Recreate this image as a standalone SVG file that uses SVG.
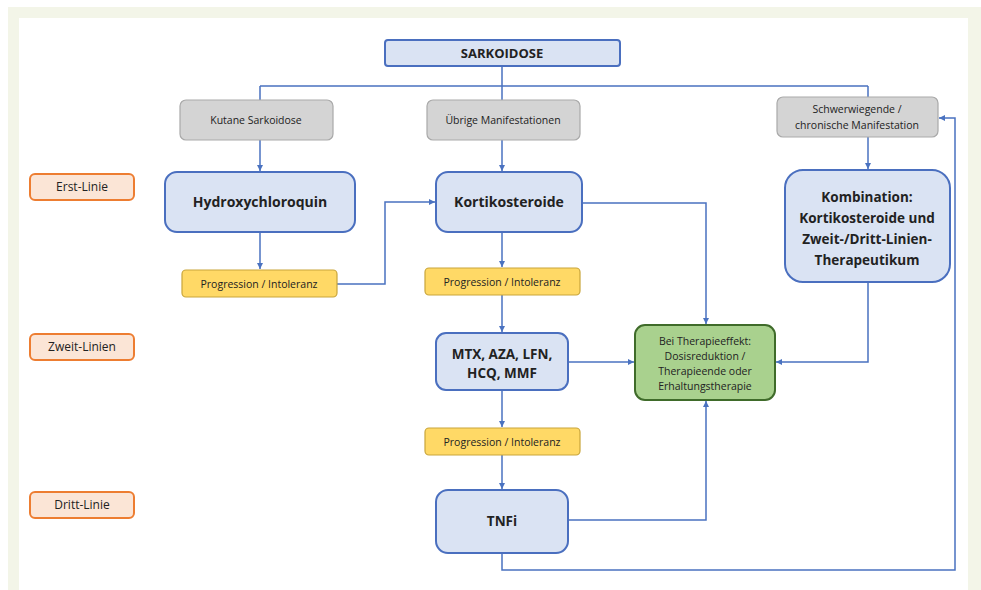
<svg xmlns="http://www.w3.org/2000/svg" width="981" height="590" viewBox="0 0 981 590">
<defs>
<marker id="arr" markerWidth="8" markerHeight="8" refX="6" refY="3" orient="auto" markerUnits="userSpaceOnUse">
<path d="M0,0 L6,3 L0,6 Z" fill="#4a72c0"/>
</marker>
<style>
.blue{fill:#dae3f3;stroke:#4a6fbf;stroke-width:2}
.gray{fill:#d4d4d4;stroke:#a9a9a9;stroke-width:1.2}
.yel{fill:#ffd966;stroke:#c9a53a;stroke-width:1.2}
.green{fill:#a9d18e;stroke:#3f6b2a;stroke-width:2}
.side{fill:#fbe5d6;stroke:#ed7d31;stroke-width:2}
.conn path{fill:none;stroke:#4a72c0;stroke-width:1.5}
text{font-family:"Open Sans","Liberation Sans",sans-serif;fill:#222;text-anchor:middle}
.b{font-weight:bold}
</style>
</defs>
<rect x="0" y="0" width="981" height="590" fill="#ffffff"/>
<rect x="8" y="7" width="973" height="583" fill="#f3f5e8"/>
<rect x="19" y="18" width="949" height="572" fill="#ffffff"/>

<g class="conn" id="connectors">
<path d="M502,66 V86 M260,86 H868"/>
<path d="M260,86 V100 M502,86 V100 M868,86 V97"/>
<path d="M260,140 V171" marker-end="url(#arr)"/>
<path d="M502,140 V171" marker-end="url(#arr)"/>
<path d="M868,137 V169" marker-end="url(#arr)"/>
<path d="M260,232 V269" marker-end="url(#arr)"/>
<path d="M337,284 H385 V202 H435" marker-end="url(#arr)"/>
<path d="M502,232 V267" marker-end="url(#arr)"/>
<path d="M582,203 H706 V324" marker-end="url(#arr)"/>
<path d="M502,295 V332" marker-end="url(#arr)"/>
<path d="M568,362 H634" marker-end="url(#arr)"/>
<path d="M868,282 V362 H776" marker-end="url(#arr)"/>
<path d="M502,390 V427" marker-end="url(#arr)"/>
<path d="M502,455 V489" marker-end="url(#arr)"/>
<path d="M568,520 H706 V401" marker-end="url(#arr)"/>
<path d="M502,553 V570 H955 V118 H939" marker-end="url(#arr)"/>
</g>

<g id="sarkoidose"><rect class="blue" x="385" y="40" width="235" height="26" rx="3"/><text class="b" x="502" y="58" font-size="13">SARKOIDOSE</text></g>

<g id="kutane"><rect class="gray" x="180" y="100" width="153" height="40" rx="6"/><text x="256" y="124" font-size="10.5">Kutane Sarkoidose</text></g>
<g id="uebrige"><rect class="gray" x="427" y="100" width="153" height="40" rx="6"/><text x="503" y="124" font-size="10.5">Übrige Manifestationen</text></g>
<g id="schwer"><rect class="gray" x="777" y="97" width="161" height="40" rx="6"/><text x="857" y="113" font-size="10.5">Schwerwiegende /</text><text x="857" y="129" font-size="10.5">chronische Manifestation</text></g>

<g id="erst"><rect class="side" x="30" y="174" width="104" height="26" rx="5"/><text x="82" y="191" font-size="12">Erst-Linie</text></g>
<g id="zweit"><rect class="side" x="30" y="334" width="104" height="26" rx="5"/><text x="82" y="351" font-size="12">Zweit-Linien</text></g>
<g id="dritt"><rect class="side" x="30" y="492" width="104" height="26" rx="5"/><text x="82" y="509" font-size="12">Dritt-Linie</text></g>

<g id="hcq"><rect class="blue" x="165" y="172" width="190" height="60" rx="12"/><text class="b" x="260" y="207" font-size="14">Hydroxychloroquin</text></g>
<g id="korti"><rect class="blue" x="436" y="172" width="146" height="60" rx="12"/><text class="b" x="509" y="207" font-size="14">Kortikosteroide</text></g>
<g id="kombi"><rect class="blue" x="785" y="170" width="165" height="112" rx="18"/>
<text class="b" x="867" y="202" font-size="13.5">Kombination:</text>
<text class="b" x="867" y="223" font-size="13.5">Kortikosteroide und</text>
<text class="b" x="867" y="244" font-size="13.5">Zweit-/Dritt-Linien-</text>
<text class="b" x="867" y="265" font-size="13.5">Therapeutikum</text></g>

<g id="prog1"><rect class="yel" x="182" y="270" width="155" height="27" rx="4"/><text x="259" y="288" font-size="10.5">Progression / Intoleranz</text></g>
<g id="prog2"><rect class="yel" x="425" y="268" width="155" height="27" rx="4"/><text x="502" y="286" font-size="10.5">Progression / Intoleranz</text></g>
<g id="mtx"><rect class="blue" x="436" y="333" width="132" height="57" rx="10"/><text class="b" x="502" y="359" font-size="13.5">MTX, AZA, LFN,</text><text class="b" x="502" y="378" font-size="13.5">HCQ, MMF</text></g>
<g id="green"><rect class="green" x="635" y="325" width="140" height="75" rx="10"/>
<text x="705" y="345" font-size="10.5">Bei Therapieeffekt:</text>
<text x="705" y="360" font-size="10.5">Dosisreduktion /</text>
<text x="705" y="375" font-size="10.5">Therapieende oder</text>
<text x="705" y="390" font-size="10.5">Erhaltungstherapie</text></g>
<g id="prog3"><rect class="yel" x="425" y="428" width="155" height="27" rx="4"/><text x="502" y="446" font-size="10.5">Progression / Intoleranz</text></g>
<g id="tnfi"><rect class="blue" x="436" y="490" width="132" height="63" rx="12"/><text class="b" x="502" y="526" font-size="13.5">TNFi</text></g>
</svg>
